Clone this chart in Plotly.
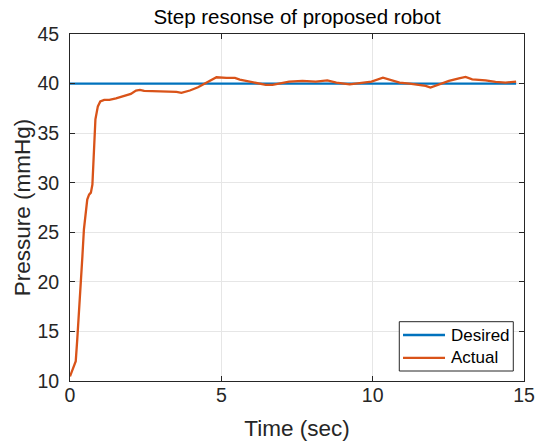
import plotly.graph_objects as go

# Measured step response of the robot (time in s, pressure in mmHg)
time_actual = [0, 0.11, 0.19, 0.24, 0.30, 0.35, 0.41, 0.46, 0.52, 0.57, 0.63, 0.69,
               0.74, 0.77, 0.84, 0.92, 1.0, 1.13, 1.3, 1.52, 1.85, 2.01, 2.18, 2.31,
               2.45, 2.75, 3.19, 3.52, 3.68, 3.96, 4.23, 4.51, 4.68, 4.84, 5.17, 5.45,
               5.61, 5.81, 6.14, 6.47, 6.69, 6.91, 7.24, 7.68, 8.12, 8.5, 8.8, 9.24,
               9.68, 9.96, 10.34, 10.62, 10.89, 11.22, 11.55, 11.75, 11.91, 12.19,
               12.52, 12.85, 13.07, 13.29, 13.73, 14.06, 14.39, 14.74]
pressure_actual = [10.46, 11.3, 12.0, 14.2, 16.9, 19.9, 22.6, 25.3, 26.9, 28.3, 28.8, 29.0,
                   29.8, 32.4, 36.4, 37.7, 38.2, 38.36, 38.36, 38.5, 38.86, 38.96, 39.3, 39.37,
                   39.27, 39.23, 39.16, 39.16, 39.06, 39.3, 39.63, 40.07, 40.4, 40.64, 40.57, 40.57,
                   40.4, 40.27, 40.1, 39.87, 39.87, 40.03, 40.2, 40.27, 40.2, 40.33, 40.1, 39.93,
                   40.1, 40.2, 40.6, 40.37, 40.1, 40.0, 39.87, 39.77, 39.6, 39.93,
                   40.27, 40.53, 40.67, 40.43, 40.33, 40.17, 40.1, 40.2]

# Setpoint
time_desired = [0, 14.74]
pressure_desired = [40, 40]

x_ticks = [0, 5, 10, 15]
y_ticks = [10, 15, 20, 25, 30, 35, 40, 45]

series_names = ["Desired", "Actual"]
series_colors = ["#0072BD", "#D95319"]

FONT = "Liberation Sans, Arial, sans-serif"
AX_COLOR = "#262626"

fig = go.Figure()
fig.add_trace(go.Scatter(x=time_desired, y=pressure_desired, mode="lines",
                         name=series_names[0], line=dict(color=series_colors[0], width=2.3)))
fig.add_trace(go.Scatter(x=time_actual, y=pressure_actual, mode="lines",
                         name=series_names[1], line=dict(color=series_colors[1], width=2.3)))

axis_common = dict(
    showline=True, linecolor=AX_COLOR, linewidth=1, mirror="ticks",
    ticks="inside", ticklen=5, tickcolor=AX_COLOR, tickwidth=1,
    showgrid=True, gridcolor="#e6e6e6", gridwidth=1, zeroline=False,
    automargin=False,
    tickfont=dict(family=FONT, size=19.5, color=AX_COLOR),
)

# Boxed legend in the lower-right corner of the axes (paper coordinates)
box_x0, box_x1, box_y0, box_y1 = 0.7253, 0.9764, 0.0288, 0.1709
swatch_x0, swatch_x1, label_x = 0.7335, 0.826, 0.8348
row_y = [0.1325, 0.0665]

shapes = [dict(type="rect", xref="paper", yref="paper",
               x0=box_x0, x1=box_x1, y0=box_y0, y1=box_y1,
               line=dict(color=AX_COLOR, width=1), fillcolor="white", layer="above")]
annotations = []
for name, color, yy in zip(series_names, series_colors, row_y):
    shapes.append(dict(type="line", xref="paper", yref="paper",
                       x0=swatch_x0, x1=swatch_x1, y0=yy, y1=yy,
                       line=dict(color=color, width=2.3), layer="above"))
    annotations.append(dict(text=name, xref="paper", yref="paper", x=label_x, y=yy,
                            xanchor="left", yanchor="middle", showarrow=False,
                            font=dict(family=FONT, size=17, color="black")))

fig.update_layout(
    width=542, height=443,
    margin=dict(l=70, r=18, t=34, b=62),
    paper_bgcolor="white", plot_bgcolor="white",
    title=dict(text="Step resonse of proposed robot", x=0.548, xanchor="center",
               y=0.962, yanchor="middle",
               font=dict(family=FONT, size=20.5, color="black")),
    xaxis=dict(range=[0, 15], tickvals=x_ticks, ticklabelstandoff=-3,
               title=dict(text="Time (sec)", standoff=14,
                          font=dict(family=FONT, size=22.5, color=AX_COLOR)),
               **axis_common),
    yaxis=dict(range=[10, 45], tickvals=y_ticks, ticklabelstandoff=6,
               title=dict(text="Pressure (mmHg)", standoff=0,
                          font=dict(family=FONT, size=22.5, color=AX_COLOR)),
               **axis_common),
    shapes=shapes,
    annotations=annotations,
    showlegend=False,
)

fig.write_html("out.html")
